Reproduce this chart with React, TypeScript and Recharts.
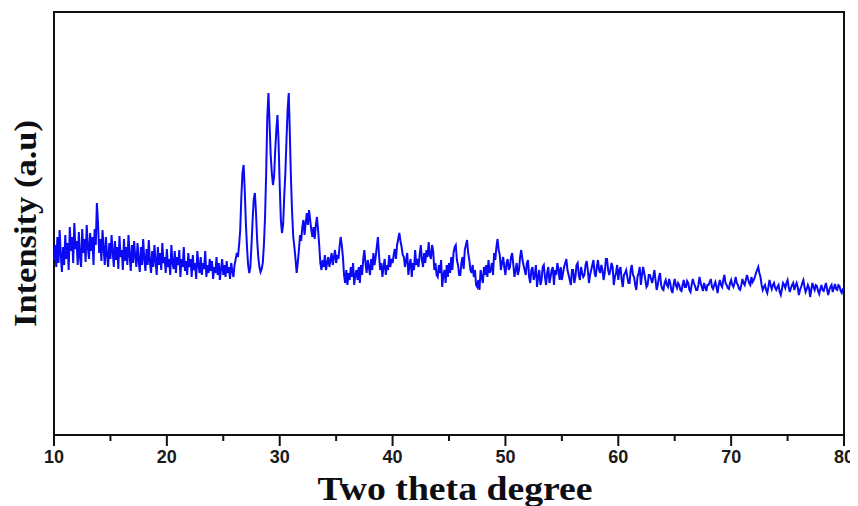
import React from "react";
import { LineChart, Line, XAxis, YAxis, ReferenceArea } from "recharts";

// XRD scan, 0.1 degree step from 10 to 80 (two theta), one row per degree
const SCAN_START = 10;
const SCAN_STEP = 0.1;

const intensity10to20 = [
  175, 190, 168, 198, 172, 205, 180, 163, 188, 170,
  200, 176, 192, 165, 208, 184, 198, 172, 212, 186,
  194, 170, 203, 178, 168, 206, 182, 196, 173, 210,
  188, 176, 202, 184, 198, 170, 206, 190, 232, 212,
  182, 196, 174, 205, 186, 170, 198, 180, 168, 192,
  176, 200, 183, 168, 194, 175, 188, 166, 199, 178,
  185, 165, 196, 174, 188, 170, 200, 180, 164, 190,
  172, 194, 178, 168, 192, 175, 163, 188, 170, 196,
  176, 164, 186, 170, 195, 173, 162, 184, 168, 190,
  174, 160, 188, 170, 182, 165, 192, 172, 178, 162,
];
const intensity20to30 = [
  186, 168, 176, 160, 190, 172, 166, 184, 162, 178,
  170, 185, 158, 176, 168, 188, 164, 174, 160, 182,
  168, 176, 158, 180, 165, 172, 156, 184, 170, 162,
  178, 160, 172, 166, 184, 158, 170, 162, 176, 164,
  174, 156, 168, 162, 178, 160, 172, 155, 166, 176,
  160, 170, 158, 174, 162, 168, 156, 172, 164, 158,
  170, 176, 182, 178, 190, 205, 238, 262, 270, 245,
  212, 188, 170, 162, 168, 190, 215, 236, 242, 222,
  195, 178, 168, 163, 166, 172, 190, 218, 262, 318,
  342, 312, 280, 262, 250, 258, 284, 305, 320, 292,
];
const intensity30to40 = [
  250, 215, 202, 210, 238, 262, 295, 325, 342, 300,
  255, 222, 198, 188, 176, 162, 172, 185, 200, 194,
  208, 215, 200, 212, 222, 210, 225, 215, 205, 198,
  208, 196, 210, 218, 205, 190, 172, 165, 175, 168,
  180, 165, 172, 178, 168, 175, 182, 170, 178, 185,
  172, 180, 176, 188, 198, 190, 178, 160, 152, 165,
  150, 162, 155, 168, 158, 172, 150, 160, 165, 155,
  168, 152, 170, 160, 176, 185, 172, 162, 175, 168,
  160, 176, 165, 182, 170, 178, 188, 198, 180, 165,
  172, 158, 168, 176, 160, 170, 165, 180, 168, 176,
];
const intensity40to50 = [
  172, 180, 186, 176, 190, 196, 202, 194, 188, 180,
  178, 168, 175, 182, 160, 170, 176, 158, 172, 165,
  185, 170, 176, 168, 180, 190, 175, 168, 182, 172,
  185, 178, 193, 180, 176, 190, 184, 165, 172, 160,
  158, 170, 162, 175, 148, 160, 165, 152, 170, 158,
  172, 162, 178, 165, 182, 188, 190, 175, 170, 160,
  160, 172, 178, 166, 185, 190, 195, 182, 175, 165,
  162, 170, 158, 165, 150, 148, 155, 145, 165, 158,
  152, 168, 160, 170, 158, 175, 162, 165, 172, 160,
  182, 175, 188, 196, 185, 180, 165, 172, 178, 168,
];
const intensity50to60 = [
  160, 172, 176, 165, 168, 178, 182, 170, 158, 165,
  172, 160, 165, 178, 185, 176, 170, 165, 160, 172,
  175, 158, 152, 165, 168, 155, 160, 170, 148, 158,
  165, 150, 155, 168, 170, 158, 150, 162, 168, 152,
  158, 165, 168, 150, 165, 160, 172, 165, 155, 168,
  155, 162, 168, 172, 176, 165, 160, 155, 150, 165,
  165, 152, 158, 170, 172, 160, 155, 168, 162, 158,
  160, 170, 174, 165, 152, 160, 165, 170, 175, 162,
  158, 168, 175, 165, 162, 170, 165, 155, 162, 176,
  176, 165, 160, 165, 172, 168, 150, 158, 162, 170,
];
const intensity60to70 = [
  155, 165, 168, 155, 148, 160, 162, 165, 158, 152,
  152, 165, 170, 160, 158, 150, 145, 158, 162, 168,
  150, 160, 168, 162, 155, 148, 150, 160, 160, 156,
  152, 158, 165, 155, 145, 150, 158, 162, 150, 146,
  145, 152, 155, 150, 148, 156, 152, 145, 142, 150,
  156, 150, 147, 152, 150, 145, 144, 150, 155, 148,
  148, 154, 152, 145, 143, 150, 156, 152, 149, 145,
  145, 150, 158, 152, 148, 144, 152, 148, 144, 150,
  150, 153, 156, 148, 146, 150, 153, 148, 142, 150,
  155, 150, 148, 155, 160, 152, 150, 147, 146, 152,
];
const intensity70to80 = [
  155, 150, 148, 152, 158, 152, 150, 146, 145, 150,
  156, 152, 150, 155, 160, 156, 152, 150, 158, 153,
  155, 158, 162, 165, 168, 162, 158, 150, 145, 148,
  150, 145, 142, 148, 155, 150, 146, 150, 152, 147,
  145, 148, 150, 143, 140, 146, 152, 150, 147, 152,
  155, 148, 143, 147, 150, 152, 145, 149, 152, 148,
  140, 145, 148, 152, 155, 148, 143, 146, 150, 147,
  138, 145, 152, 148, 145, 150, 149, 144, 141, 146,
  150, 145, 144, 148, 152, 146, 140, 145, 148, 150,
  143, 147, 151, 146, 145, 150, 149, 144, 142, 146,
  147,
];

const majorTicks = [10, 20, 30, 40, 50, 60, 70, 80];
const minorTicks = [15, 25, 35, 45, 55, 65, 75];
const xTitle = "Two theta degree";
const yTitle = "Intensity (a.u)";

const intensity = [
  ...intensity10to20,
  ...intensity20to30,
  ...intensity30to40,
  ...intensity40to50,
  ...intensity50to60,
  ...intensity60to70,
  ...intensity70to80,
];

const data = intensity.map((v, i) => ({
  theta: Math.round((SCAN_START + i * SCAN_STEP) * 10) / 10,
  intensity: v,
}));

const allTicks = [...majorTicks, ...minorTicks].sort((a, b) => a - b);
const Y_MAX = 423;
const TICK_MAJOR = 11;
const TICK_MINOR = 6;
const TICK_GAP = 4;

function AxisTick(props: any) {
  const { x, y, payload } = props;
  const major = majorTicks.includes(payload.value);
  const axisY = y - TICK_MAJOR - TICK_GAP;
  return (
    <g>
      <line
        x1={x}
        x2={x}
        y1={axisY}
        y2={axisY + (major ? TICK_MAJOR : TICK_MINOR)}
        stroke="#111"
        strokeWidth={2}
      />
      {major && (
        <text
          x={x}
          y={y}
          dy="0.71em"
          textAnchor="middle"
          style={{ fontFamily: "'Liberation Sans', Arial, sans-serif", fontWeight: 700, fontSize: 18, fill: "#1a1a1a" }}
        >
          {payload.value}
        </text>
      )}
    </g>
  );
}

function XTitle(props: any) {
  const vb = props.viewBox || {};
  return (
    <text
      x={vb.x + vb.width / 2 + 6}
      y={vb.y + 65}
      textAnchor="middle"
      textLength={275}
      lengthAdjust="spacingAndGlyphs"
      style={{ fontFamily: "'Liberation Serif', 'Times New Roman', serif", fontWeight: 700, fontSize: 33, fill: "#0d0d14" }}
    >
      {xTitle}
    </text>
  );
}

function YTitle(props: any) {
  const vb = props.viewBox || {};
  const cx = vb.x + 17;
  const cy = vb.y + vb.height / 2;
  return (
    <text
      x={cx}
      y={cy}
      textAnchor="middle"
      dominantBaseline="central"
      transform={`rotate(-90 ${cx} ${cy})`}
      textLength={207}
      lengthAdjust="spacingAndGlyphs"
      style={{ fontFamily: "'Liberation Serif', 'Times New Roman', serif", fontWeight: 700, fontSize: 31, fill: "#0d0d14" }}
    >
      {yTitle}
    </text>
  );
}

export default function App() {
  return (
    <div style={{ width: 850, height: 498, background: "#fff" }}>
      <LineChart width={850} height={498} data={data} margin={{ top: 4, right: 14, left: 0, bottom: 0 }}>
        <XAxis
          type="number"
          dataKey="theta"
          domain={[10, 80]}
          ticks={allTicks}
          interval={0}
          height={71}
          tickSize={TICK_MAJOR}
          tickMargin={TICK_GAP}
          axisLine={false}
          tickLine={false}
          tick={<AxisTick />}
          label={{ content: <XTitle /> }}
        />
        <YAxis
          type="number"
          domain={[0, Y_MAX]}
          width={46}
          tick={false}
          tickLine={false}
          axisLine={false}
          label={{ content: <YTitle /> }}
        />
        <ReferenceArea x1={10} x2={80} y1={0} y2={Y_MAX} fill="none" stroke="#111" strokeWidth={2} />
        <Line
          type="linear"
          dataKey="intensity"
          stroke="#0a0af5"
          strokeWidth={2}
          dot={false}
          isAnimationActive={false}
        />
      </LineChart>
    </div>
  );
}
